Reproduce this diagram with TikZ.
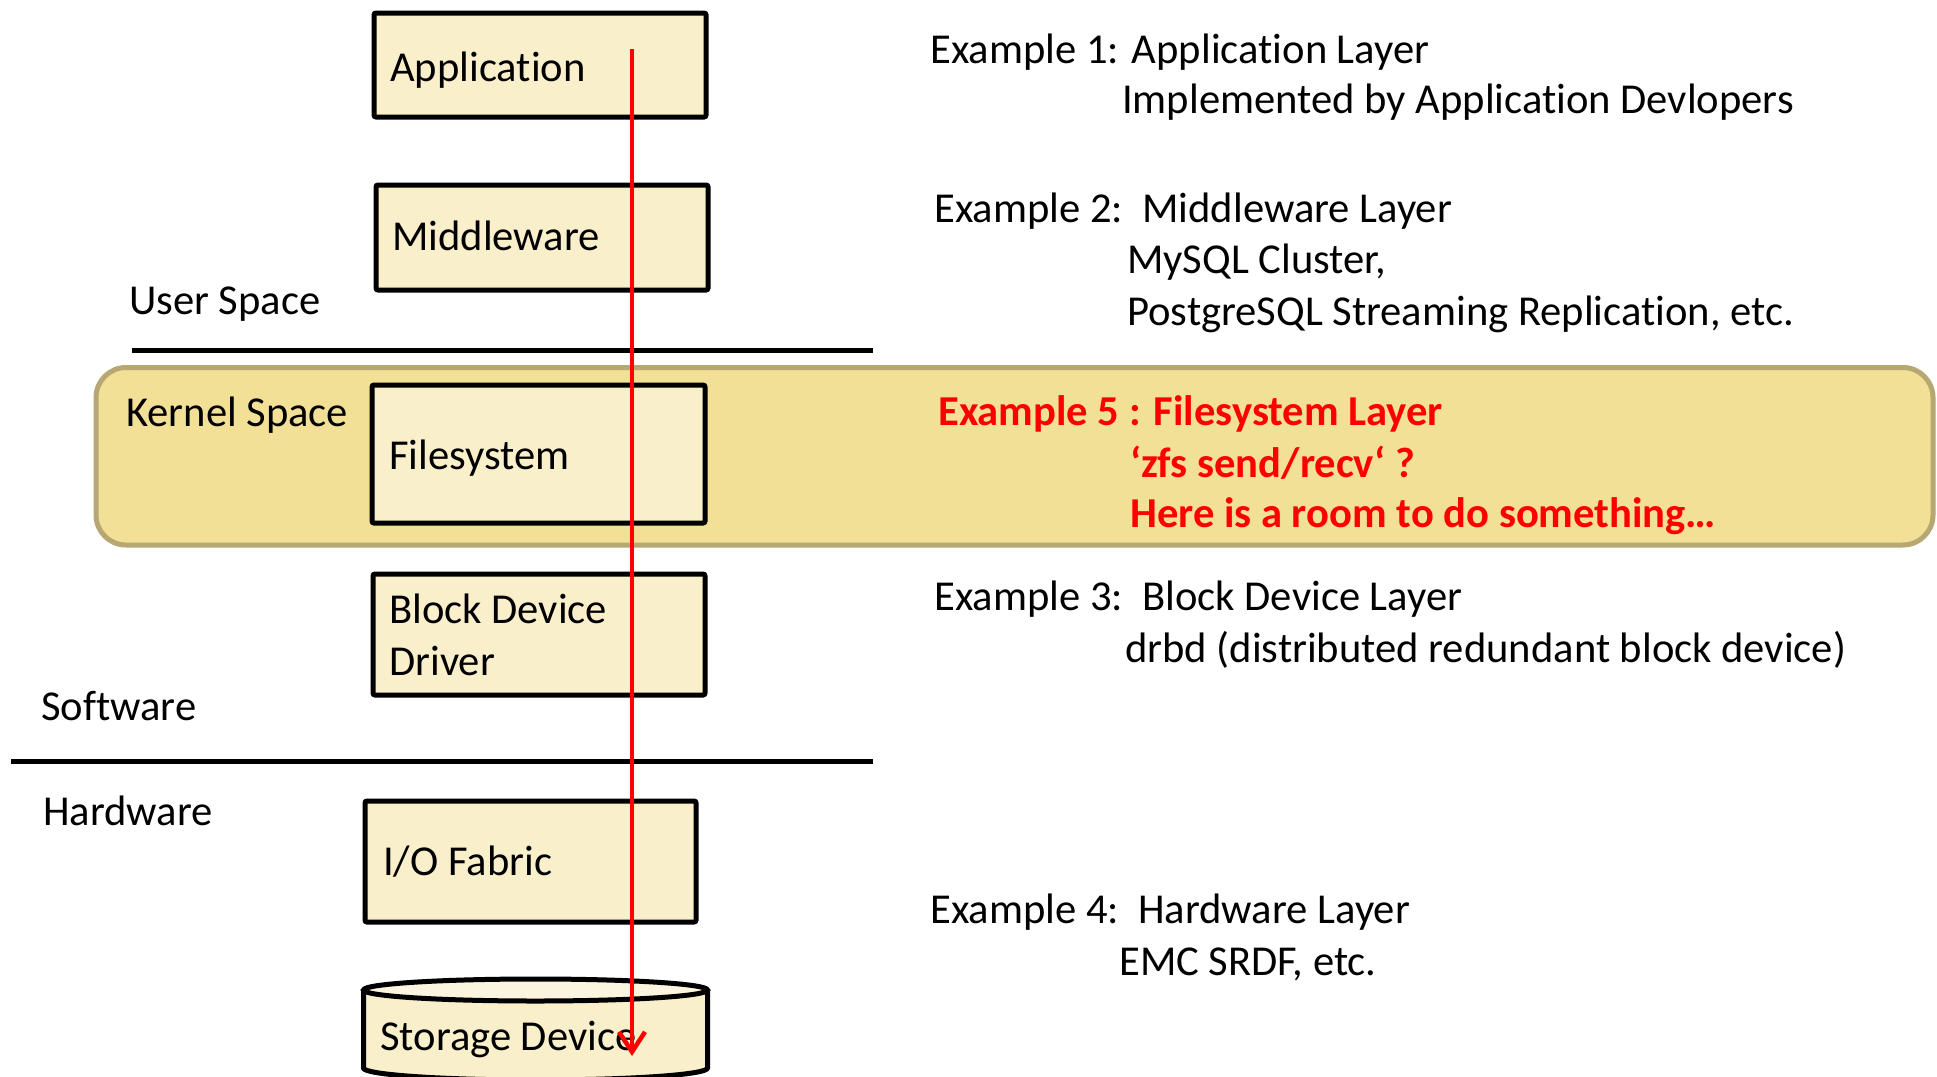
\documentclass[tikz,border=0pt]{standalone}
\usepackage{fontspec}
\setmainfont{Carlito}[RawFeature={-liga;-clig;-calt;-dlig}]
\usetikzlibrary{arrows.meta}

\definecolor{boxfill}{HTML}{FAEFCB}
\definecolor{boxtop}{HTML}{FBF4DE}
\definecolor{bandfill}{HTML}{F2E097}
\definecolor{banddraw}{HTML}{B7A773}
\definecolor{flowred}{HTML}{FF0000}

\begin{document}
\begin{tikzpicture}[x=1pt,y=-1pt,
  layerbox/.style={draw=black, line width=5pt, fill=boxfill, rounded corners=2pt, inner sep=0pt},
  txt/.style={anchor=base west, inner sep=0pt, align=left, font=\fontsize{42.6}{52}\selectfont},
  redtxt/.style={txt, text=flowred, font=\fontsize{42.6}{52}\selectfont\bfseries},
  divider/.style={line width=5pt, black},
  flow/.style={draw=flowred, line width=4.5pt, -{Straight Barb[length=20pt,width=26pt]}},
]
% canvas
\path[use as bounding box, fill=white] (0,0) rectangle (1937,1076);

% kernel space band
\draw[fill=bandfill, draw=banddraw, line width=5pt, rounded corners=30pt]
  (96,367.5) rectangle (1933,545);

% user/kernel and software/hardware dividers
\coordinate (div1l) at (132,350);
\coordinate (div1r) at (873,350);
\coordinate (div2l) at (11,761);
\coordinate (div2r) at (873,761);
\draw[divider] (div1l) -- (div1r);
\draw[divider] (div2l) -- (div2r);

% layer boxes
\node[layerbox, minimum width=332pt, minimum height=104pt] (app) at (540,65) {};
\node[layerbox, minimum width=332pt, minimum height=105pt] (mid) at (542,237.5) {};
\node[layerbox, minimum width=333pt, minimum height=138pt] (fs)  at (538.5,454) {};
\node[layerbox, minimum width=332pt, minimum height=121pt] (blk) at (539,634.5) {};
\node[layerbox, minimum width=331pt, minimum height=121pt] (io)  at (530.5,861.5) {};

% storage device cylinder
\filldraw[fill=boxfill, draw=black, line width=5pt]
  (363.5,990) -- (363.5,1068) arc[start angle=180, end angle=360, x radius=172pt, y radius=12pt]
  -- (707.5,990);
\filldraw[fill=boxtop, draw=black, line width=5pt]
  (535.5,990) ellipse[x radius=172pt, y radius=11pt];

% box labels
\node[txt] (appT) at (390,81)  {Application};
\node[txt] (midT) at (392,250) {Middleware};
\node[txt] (fsT)  at (389,469) {Filesystem};
\node[txt] (blkT) at (389,675) {Block Device\\Driver};
\node[txt] (ioT)  at (383,875) {I/O Fabric};
\node[txt] (stT)  at (380,1050) {Storage Device};

% region labels
\node[txt] (user)  at (129,314) {User Space};
\node[txt] (kern)  at (126,426) {Kernel Space};
\node[txt] (soft)  at (41,720)  {Software};
\node[txt] (hard)  at (43,825)  {Hardware};

% examples
\node[txt] (ex1)  at (930,63)   {Example 1: Application Layer};
\node[txt] (ex1a) at (1122,113) {Implemented by Application Devlopers};
\node[txt] (ex2)  at (934,222)  {Example 2:\ \ Middleware Layer};
\node[txt] (ex2a) at (1127,273) {MySQL Cluster,};
\node[txt] (ex2b) at (1127,325) {PostgreSQL Streaming Replication, etc.};
\node[redtxt] (ex5)  at (938,425)  {Example 5 : Filesystem Layer};
\node[redtxt] (ex5a) at (1130,477) {‘zfs send/recv‘ ?};
\node[redtxt] (ex5b) at (1130,527) {Here is a room to do something…};
\node[txt] (ex3)  at (934,610)  {Example 3:\ \ Block Device Layer};
\node[txt] (ex3a) at (1125,662) {drbd (distributed redundant block device)};
\node[txt] (ex4)  at (930,923)  {Example 4:\ \ Hardware Layer};
\node[txt] (ex4a) at (1119,975) {EMC SRDF, etc.};

% data path from application down to storage
\coordinate (flowtop) at (632,49);
\coordinate (flowend) at (632,1056);
\draw[flow] (flowtop) -- (flowend);
\end{tikzpicture}
\end{document}
